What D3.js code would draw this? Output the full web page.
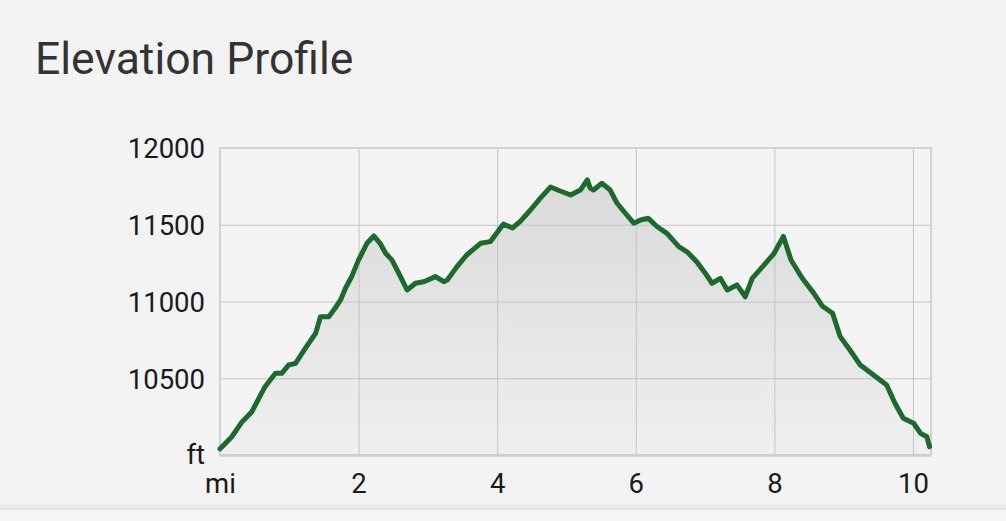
<!DOCTYPE html>
<html>
<head>
<meta charset="utf-8">
<script src="https://cdn.jsdelivr.net/npm/d3@7"></script>
<style>
  html, body { margin: 0; padding: 0; background: #f3f3f3; }
  svg { display: block; font-family: Roboto, "Noto Sans", sans-serif; }
</style>
</head>
<body>
<svg id="chart" width="1006" height="521"></svg>
<script>
// ---- data ----
const distanceMi = [0.00,0.03,0.17,0.32,0.46,0.56,0.65,0.80,0.89,0.99,1.09,1.23,1.38,1.45,1.57,1.66,1.74,1.81,1.90,2.00,2.12,2.22,2.31,2.39,2.48,2.58,2.70,2.82,2.94,3.11,3.23,3.28,3.42,3.56,3.76,3.90,4.09,4.22,4.33,4.48,4.62,4.77,4.91,5.06,5.20,5.30,5.34,5.39,5.51,5.63,5.73,5.85,5.97,6.07,6.18,6.31,6.45,6.62,6.74,6.88,7.00,7.10,7.22,7.32,7.46,7.58,7.68,7.83,7.99,8.13,8.24,8.40,8.57,8.69,8.84,8.95,9.09,9.24,9.43,9.62,9.74,9.86,10.01,10.11,10.20,10.24];
const elevationFt = [10040,10054,10119,10217,10282,10369,10445,10532,10532,10586,10597,10695,10793,10901,10901,10956,11010,11086,11162,11271,11379,11427,11379,11314,11271,11184,11075,11119,11129,11162,11129,11140,11227,11303,11379,11390,11505,11479,11520,11596,11672,11746,11720,11694,11726,11792,11740,11726,11770,11726,11640,11575,11510,11531,11542,11487,11444,11357,11324,11259,11186,11119,11151,11075,11108,11031,11151,11227,11310,11424,11270,11153,11053,10971,10923,10771,10684,10586,10521,10456,10337,10239,10207,10141,10119,10054];
const xTickValues = [0, 2, 4, 6, 8, 10];
const xTickLabels = ["mi", "2", "4", "6", "8", "10"];
const yTickValues = [10000, 10500, 11000, 11500, 12000];
const yTickLabels = ["ft", "10500", "11000", "11500", "12000"];
const titleText = "Elevation Profile";

// ---- layout ----
const svg = d3.select("#chart");
const W = 1006, H = 521;
const pLeft = 220, pRight = 931, pTop = 148, pBottom = 455;

const x = d3.scaleLinear().domain([0, 10.26]).range([pLeft, pRight]);
const y = d3.scaleLinear().domain([10000, 12000]).range([pBottom, pTop]);

svg.append("rect").attr("width", W).attr("height", H).attr("fill", "#f3f3f3");

// bottom shadow band
const defs = svg.append("defs");
const sh = defs.append("linearGradient").attr("id", "shadow").attr("x1", 0).attr("y1", 0).attr("x2", 0).attr("y2", 1);
sh.append("stop").attr("offset", "0%").attr("stop-color", "#f1f1f1");
sh.append("stop").attr("offset", "100%").attr("stop-color", "#e0e0e0");
svg.append("rect").attr("x", 0).attr("y", 503).attr("width", W).attr("height", 7).attr("fill", "url(#shadow)");
svg.append("rect").attr("x", 0).attr("y", 510).attr("width", W).attr("height", 11).attr("fill", "#f5f5f5");

// title
svg.append("text")
  .attr("x", 35).attr("y", 74)
  .attr("font-size", 44.5)
  .attr("fill", "#333333")
  .text(titleText);

// plot background
svg.append("rect")
  .attr("x", pLeft).attr("y", pTop).attr("width", pRight - pLeft).attr("height", pBottom - pTop)
  .attr("fill", "#f4f4f4");

// area gradient
const ag = defs.append("linearGradient").attr("id", "areaGrad")
  .attr("gradientUnits", "userSpaceOnUse")
  .attr("x1", 0).attr("y1", pTop + 30).attr("x2", 0).attr("y2", pBottom);
ag.append("stop").attr("offset", "0%").attr("stop-color", "#dadada");
ag.append("stop").attr("offset", "100%").attr("stop-color", "#efefef");

const pts = distanceMi.map((d, i) => [d, elevationFt[i]]);

svg.append("path")
  .datum(pts)
  .attr("fill", "url(#areaGrad)")
  .attr("d", d3.area().x(d => x(d[0])).y0(y(10000)).y1(d => y(d[1])));

// grid
const gx = svg.append("g").attr("transform", `translate(0,${pBottom})`)
  .call(d3.axisBottom(x).tickValues(xTickValues).tickSize(-(pBottom - pTop))
    .tickFormat((d, i) => xTickLabels[i]));
gx.select(".domain").remove();
gx.selectAll(".tick line").attr("stroke", "#c4c4c4").attr("stroke-width", 1);
gx.selectAll(".tick").filter(d => d === 0).select("line").remove();
gx.selectAll(".tick text")
  .attr("y", 38).attr("dy", 0)
  .attr("font-size", 27.5).attr("fill", "#1a1a1a")
  .attr("font-family", "Roboto, 'Noto Sans', sans-serif");

const gy = svg.append("g").attr("transform", `translate(${pLeft},0)`)
  .call(d3.axisLeft(y).tickValues(yTickValues).tickSize(-(pRight - pLeft))
    .tickFormat((d, i) => yTickLabels[i]));
gy.select(".domain").remove();
gy.selectAll(".tick line").attr("stroke", "#c4c4c4").attr("stroke-width", 1);
gy.selectAll(".tick").filter(d => d === 10000 || d === 12000).select("line").remove();
gy.selectAll(".tick text")
  .attr("x", -15).attr("dy", "0.36em")
  .attr("font-size", 27.5).attr("fill", "#1a1a1a")
  .attr("font-family", "Roboto, 'Noto Sans', sans-serif");
gy.selectAll(".tick").filter(d => d === 10000).select("text").attr("dy", "0.3em");

// border
svg.append("rect")
  .attr("x", pLeft).attr("y", pTop).attr("width", pRight - pLeft).attr("height", pBottom - pTop)
  .attr("fill", "none").attr("stroke", "#c8c8c8").attr("stroke-width", 1.5);
svg.append("line").attr("x1", pLeft).attr("x2", pRight).attr("y1", pBottom + 0.5).attr("y2", pBottom + 0.5)
  .attr("stroke", "#cfcfcf").attr("stroke-width", 2.5);

// line
svg.append("path")
  .datum(pts)
  .attr("fill", "none")
  .attr("stroke", "#1c6a2e")
  .attr("stroke-width", 5)
  .attr("stroke-linejoin", "round")
  .attr("stroke-linecap", "round")
  .attr("d", d3.line().x(d => x(d[0])).y(d => y(d[1])));
</script>
</body>
</html>
